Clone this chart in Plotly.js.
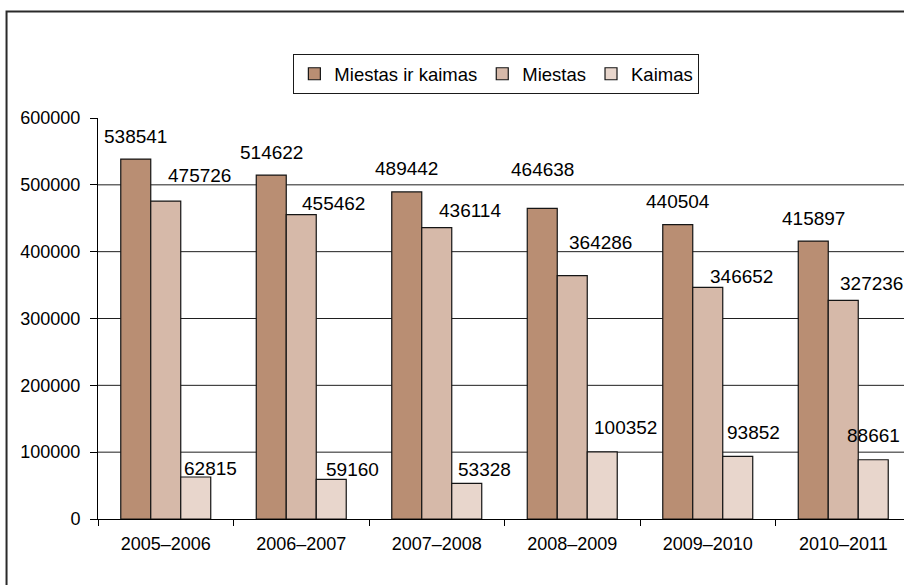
<!DOCTYPE html>
<html>
<head>
<meta charset="utf-8">
<script src="https://cdn.plot.ly/plotly-3.0.1.min.js"></script>
<style>
html,body{margin:0;padding:0;overflow:hidden;background:#fff;width:904px;height:585px;}
#chart{width:920px;height:585px;}
</style>
</head>
<body>
<div id="chart"></div>
<script>
// ---- data ----
var categories = ["2005–2006", "2006–2007", "2007–2008", "2008–2009", "2009–2010", "2010–2011"];
var seriesNames = ["Miestas ir kaimas", "Miestas", "Kaimas"];
var miestasIrKaimas = [538541, 514622, 489442, 464638, 440504, 415897];
var miestas = [475726, 455462, 436114, 364286, 346652, 327236];
var kaimas = [62815, 59160, 53328, 100352, 93852, 88661];
var yTickVals = [0, 100000, 200000, 300000, 400000, 500000, 600000];
var gridVals = [100000, 200000, 300000, 400000, 500000];

// ---- styles ----
var colors = ["#B98E73", "#D6B9A9", "#E8D6CC"];
var FONT = "Liberation Sans, Arial, sans-serif";
// label nudges (px) relative to bar centre / bar top, mimicking the original label placement
var labelDx = [[0,0,0,0,0,0],[34,32,33,28,34,28],[15,21,18,23,16,0]];
var labelDy = [[23,23,23,39,23,23],[26,11,17,33,11,17],[9,10,14,24,24,24]];

var allSeries = [miestasIrKaimas, miestas, kaimas];
var bargap = 0.336;
var barW = (1 - bargap) / 3;

var traces = allSeries.map(function(vals, s){
  return {
    type: "bar",
    name: seriesNames[s],
    x: categories,
    y: vals,
    marker: {color: colors[s], line: {color: "#151515", width: 1.2}},
    hoverinfo: "skip"
  };
});

var annotations = [];
allSeries.forEach(function(vals, s){
  vals.forEach(function(v, i){
    annotations.push({
      x: i + (s - 1) * barW,
      y: v,
      xref: "x", yref: "y",
      text: String(v),
      showarrow: false,
      xanchor: "center", yanchor: "middle",
      xshift: labelDx[s][i],
      yshift: labelDy[s][i],
      font: {family: FONT, size: 19, color: "#000"}
    });
  });
});

var shapes = gridVals.map(function(g){
  return {type: "line", xref: "paper", x0: 0, x1: 1, yref: "y", y0: g, y1: g,
          line: {color: "#1f1f1f", width: 1}, layer: "below"};
});
shapes.push({type: "rect", xref: "paper", yref: "paper",
  x0: -0.1125, x1: 1.3, y0: -0.4, y1: 1.2656,
  line: {color: "#2a2a2a", width: 2}, fillcolor: "rgba(0,0,0,0)", layer: "above"});

var layout = {
  width: 920, height: 585,
  margin: {l: 98, r: 9, t: 118, b: 66},
  paper_bgcolor: "#fff", plot_bgcolor: "#fff",
  barmode: "group",
  bargap: bargap,
  bargroupgap: 0,
  showlegend: true,
  legend: {
    orientation: "h",
    x: 0.49, xanchor: "center",
    y: 1.159, yanchor: "top",
    bordercolor: "#1a1a1a", borderwidth: 1, bgcolor: "#fff",
    font: {family: FONT, size: 18.5, color: "#000"},
    itemwidth: 30,
    traceorder: "normal"
  },
  xaxis: {
    type: "category",
    range: [-0.5, 5.5],
    showline: true, linecolor: "#000", linewidth: 1,
    ticks: "outside", tickson: "boundaries", ticklen: 6, tickcolor: "#000", tickwidth: 1,
    ticklabelstandoff: 8,
    showgrid: false, zeroline: false,
    tickfont: {family: FONT, size: 18, color: "#000"},
    fixedrange: true
  },
  yaxis: {
    range: [0, 600000],
    tickvals: yTickVals,
    ticktext: yTickVals.map(String),
    showline: true, linecolor: "#000", linewidth: 1,
    ticks: "outside", ticklen: 7, tickcolor: "#000", tickwidth: 1,
    ticklabelstandoff: 6,
    showgrid: false, zeroline: false,
    tickfont: {family: FONT, size: 18, color: "#000"},
    fixedrange: true
  },
  shapes: shapes,
  annotations: annotations
};

Plotly.newPlot("chart", traces, layout, {staticPlot: true, displayModeBar: false});
</script>
</body>
</html>
